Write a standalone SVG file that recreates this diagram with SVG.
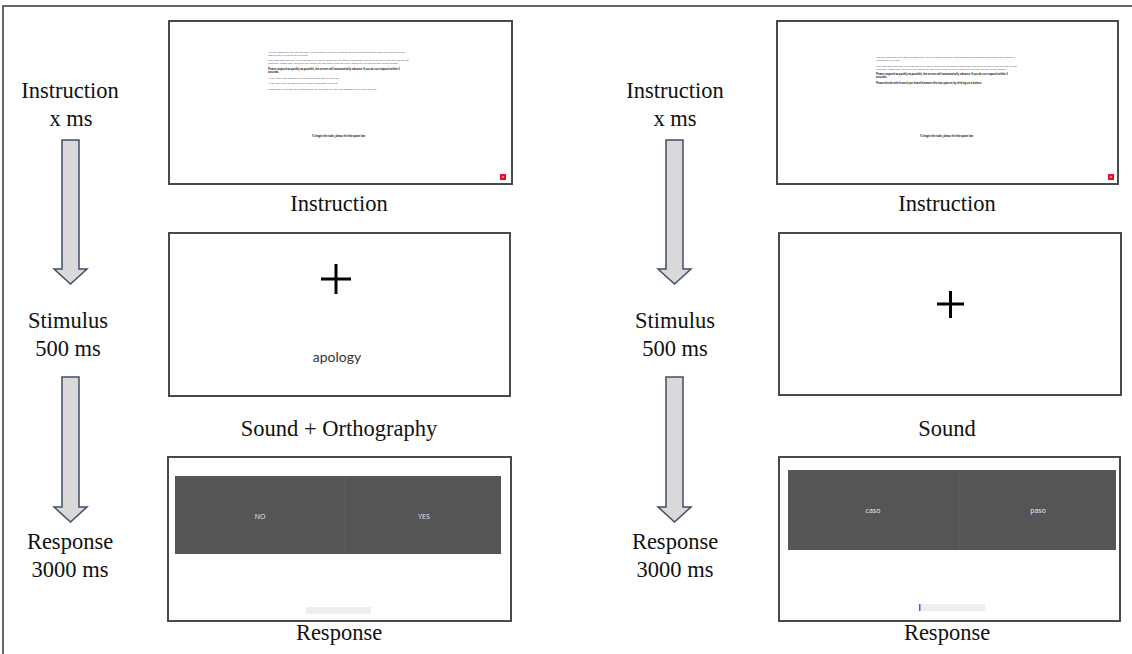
<svg xmlns="http://www.w3.org/2000/svg" width="1132" height="654" viewBox="0 0 1132 654">
<style>
.lbl{font-family:"Liberation Serif","Times New Roman",serif;font-size:22.5px;fill:#111;text-anchor:middle}
.screen{fill:#fff;stroke:#4a4a4a;stroke-width:2}
.tiny{font-family:"Open Sans","Liberation Sans",sans-serif;font-size:2.5px;fill:#444}
.tinyb{font-family:"Open Sans","Liberation Sans",sans-serif;font-size:2.5px;fill:#222;font-weight:bold}
.btn{fill:#555}
.btxt{font-family:"Open Sans","Liberation Sans",sans-serif;font-size:7px;fill:#eee;text-anchor:middle}
.arrow{fill:#d9d9d9;stroke:#3f4f66;stroke-width:1.5;stroke-linejoin:miter}
.red{fill:#e8102e}
.bar{fill:#eeeeee}
</style>
<rect width="1132" height="654" fill="#fff"/>
<path d="M3,654 V6 H1132" fill="none" stroke="#333" stroke-width="1.5"/>

<g id="connectors">
<path class="arrow" d="M62,140 H79 V269 H87 L70.5,284 L54,269 H62 Z"/>
<path class="arrow" d="M62,377 H79 V507 H87 L70.5,522 L54,507 H62 Z"/>
<path class="arrow" d="M666,140 H683 V269 H691 L674.5,284 L658,269 H666 Z"/>
<path class="arrow" d="M666,377 H683 V507 H691 L674.5,522 L658,507 H666 Z"/>
</g>

<g id="left-labels">
<text class="lbl" x="70" y="98">Instruction</text>
<text class="lbl" x="71" y="126">x ms</text>
<text class="lbl" x="68" y="328">Stimulus</text>
<text class="lbl" x="68" y="356">500 ms</text>
<text class="lbl" x="70" y="549">Response</text>
<text class="lbl" x="70" y="577">3000 ms</text>
</g>
<g id="right-labels">
<text class="lbl" x="675" y="98">Instruction</text>
<text class="lbl" x="675" y="126">x ms</text>
<text class="lbl" x="675" y="328">Stimulus</text>
<text class="lbl" x="675" y="356">500 ms</text>
<text class="lbl" x="675" y="549">Response</text>
<text class="lbl" x="675" y="577">3000 ms</text>
</g>

<g id="left-instruction">
<rect class="screen" x="169" y="21" width="343" height="163"/>
<text class="tiny" x="268" y="52.5" textLength="137" lengthAdjust="spacingAndGlyphs">You will now start the YES-NO task. You are going to listen to English and determine whether what you heard is a real</text>
<text class="tiny" x="268" y="55.8" textLength="40" lengthAdjust="spacingAndGlyphs">word or not by clicking on a button.</text>
<text class="tiny" x="268" y="61" textLength="141" lengthAdjust="spacingAndGlyphs">This task requires your full attention at all times. There will be checks throughout the study to verify that you are paying</text>
<text class="tiny" x="268" y="64.3" textLength="130" lengthAdjust="spacingAndGlyphs">attention. Please start the study only when you are ready to do the study from start to finish without interruptions.</text>
<text class="tinyb" x="268" y="69.5" textLength="132" lengthAdjust="spacingAndGlyphs">Please respond as quickly as possible, the screen will automatically advance if you do not respond within 3</text>
<text class="tinyb" x="268" y="72.8" textLength="11" lengthAdjust="spacingAndGlyphs">seconds.</text>
<text class="tiny" x="268" y="78.5" textLength="71" lengthAdjust="spacingAndGlyphs">If you think that the word you heard is a Real word, click YES.</text>
<text class="tiny" x="268" y="84" textLength="70" lengthAdjust="spacingAndGlyphs">If you think that the word heard is NOT a real word, click NO.</text>
<text class="tiny" x="268" y="89.5" textLength="109" lengthAdjust="spacingAndGlyphs">Please pay attention to the location of the buttons, as they are randomized during the task.</text>
<text class="tinyb" x="339" y="137" text-anchor="middle" textLength="54" lengthAdjust="spacingAndGlyphs">To begin the task, please hit the space bar.</text>
<rect class="red" x="500" y="174" width="6" height="6"/>
<circle cx="503" cy="177" r="0.8" fill="#fff"/>
<text x="339" y="211" class="lbl">Instruction</text>
</g>

<g id="left-stimulus">
<rect class="screen" x="169" y="233" width="341" height="163"/>
<path d="M321,279 H351 M336,264 V294" stroke="#000" stroke-width="3"/>
<text x="337" y="362" font-family="Lato,'Open Sans',sans-serif" font-size="14" fill="#333" text-anchor="middle">apology</text>
<text x="339" y="436" class="lbl">Sound + Orthography</text>
</g>

<g id="left-response">
<rect class="screen" x="168" y="457" width="343" height="164"/>
<rect class="btn" x="175" y="476" width="326" height="78"/>
<line x1="345" y1="476" x2="345" y2="554" stroke="#6a6a6a" stroke-width="0.6"/>
<text class="btxt" x="260" y="519">NO</text>
<text class="btxt" x="424" y="519">YES</text>
<rect class="bar" x="306" y="607" width="65" height="7"/>
<text x="339" y="640" class="lbl">Response</text>
</g>

<g id="right-instruction">
<rect class="screen" x="777" y="21" width="341" height="163"/>
<text class="tiny" x="876" y="57.5" textLength="139" lengthAdjust="spacingAndGlyphs">You will now start the identification task. You are going to listen to Spanish and determine which word you heard by</text>
<text class="tiny" x="876" y="60.8" textLength="24" lengthAdjust="spacingAndGlyphs">clicking on a button.</text>
<text class="tiny" x="876" y="66.5" textLength="141" lengthAdjust="spacingAndGlyphs">This task requires your full attention at all times. There will be checks throughout the study to verify that you are paying</text>
<text class="tiny" x="876" y="69.8" textLength="130" lengthAdjust="spacingAndGlyphs">attention. Please start the study only when you are ready to do the study from start to finish without interruptions.</text>
<text class="tinyb" x="876" y="75" textLength="132" lengthAdjust="spacingAndGlyphs">Please respond as quickly as possible, the screen will automatically advance if you do not respond within 3</text>
<text class="tinyb" x="876" y="78.3" textLength="11" lengthAdjust="spacingAndGlyphs">seconds.</text>
<text class="tinyb" x="876" y="84" textLength="106" lengthAdjust="spacingAndGlyphs">Please decide which word you heard between the two options by clicking on a button.</text>
<text class="tinyb" x="947" y="137" text-anchor="middle" textLength="54" lengthAdjust="spacingAndGlyphs">To begin the task, please hit the space bar.</text>
<rect class="red" x="1108" y="174" width="6" height="6"/>
<circle cx="1111" cy="177" r="0.8" fill="#fff"/>
<text x="947" y="211" class="lbl">Instruction</text>
</g>

<g id="right-stimulus">
<rect class="screen" x="779" y="233" width="342" height="162"/>
<path d="M937,304 H964 M950.5,291 V318" stroke="#000" stroke-width="3"/>
<text x="947" y="436" class="lbl">Sound</text>
</g>

<g id="right-response">
<rect class="screen" x="779" y="457" width="341" height="164"/>
<rect class="btn" x="788" y="470" width="328" height="80"/>
<line x1="959" y1="470" x2="959" y2="550" stroke="#6a6a6a" stroke-width="0.6"/>
<text class="btxt" x="873" y="513">caso</text>
<text class="btxt" x="1038" y="513">paso</text>
<rect class="bar" x="919" y="604" width="66" height="7"/>
<rect x="919" y="604" width="1.5" height="7" fill="#1a73e8"/>
<text x="947" y="640" class="lbl">Response</text>
</g>
</svg>
